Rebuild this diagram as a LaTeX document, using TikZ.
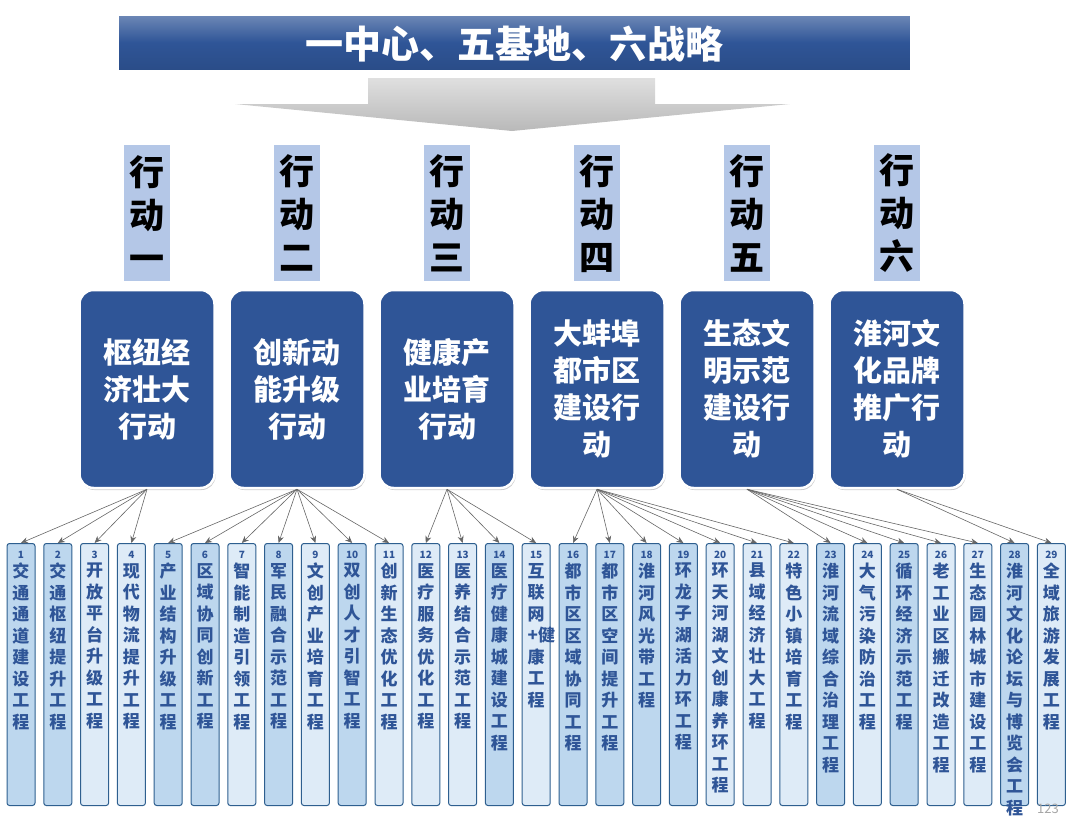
\documentclass[tikz,border=0pt]{standalone}
\usepackage{fontspec}
\setmainfont{Noto Sans CJK SC}
\usetikzlibrary{arrows.meta,shadows}
\XeTeXlinebreaklocale "zh"
\XeTeXlinebreakskip=0pt plus 1pt
\definecolor{navy}{HTML}{2F5597}
\definecolor{dk}{HTML}{BDD7EE}
\definecolor{lt}{HTML}{DEEBF7}
\definecolor{band}{HTML}{B4C7E7}
\definecolor{edge}{HTML}{2E5F8F}
\tikzset{
 main/.style={draw=white,line width=2.5pt,fill=navy,rounded corners=14pt,minimum width=135,minimum height=198,text=white,font=\fontsize{29}{37}\selectfont\bfseries,align=center,drop shadow={shadow xshift=1pt,shadow yshift=-2pt,opacity=.4}},
 sub/.style={draw=edge,line width=1pt,rounded corners=2.5pt,minimum width=28,minimum height=262,anchor=north},
 subtxt/.style={text width=17,align=center,anchor=north,inner sep=0,font=\fontsize{17}{21.5}\selectfont\bfseries,text=navy},
 num/.style={font=\fontsize{10}{10}\selectfont\bfseries,text=navy,inner sep=0},
 lab/.style={fill=band,minimum width=46,minimum height=136,anchor=north,align=center,font=\fontsize{35}{43}\selectfont\bfseries,inner sep=0},
 link/.style={draw=gray!80!black,line width=.6pt,-{Stealth[length=7pt,width=6pt]}}
}
\begin{document}
\begin{tikzpicture}[x=1pt,y=-1pt]
\useasboundingbox (0,0) rectangle (1080,817);
% title
\shade[top color=navy!70,bottom color=navy!90!black,middle color=navy] (118,15) rectangle (910,70);
\draw[white,line width=1pt] (118,15) rectangle (910,70);
\node[text=white,font=\fontsize{38}{40}\selectfont\bfseries] (title) at (514,44) {一中心、五基地、六战略};
% gray arrow
\shade[top color=gray!25,bottom color=gray!55] (368,78) -- (655,78) -- (655,104) -- (790,104) -- (512,131) -- (235,104) -- (368,104) -- cycle;
% labels and main boxes
\foreach \i/\x/\c/\t in {1/147/一/枢纽经\\济壮大\\行动,2/297/二/创新动\\能升级\\行动,3/447/三/健康产\\业培育\\行动,4/597/四/大蚌埠\\都市区\\建设行\\动,5/747/五/生态文\\明示范\\建设行\\动,6/897/六/淮河文\\化品牌\\推广行\\动}{
 \node[lab] (L\i) at (\x,145) {行\\动\\\c};
 \node[main] (M\i) at (\x,389) {\t};
}
% sub boxes
\foreach \n/\col/\t in {1/dk/交通通道建设工程,2/dk/交通枢纽提升工程,3/lt/开放平台升级工程,4/lt/现代物流提升工程,5/dk/产业结构升级工程,6/dk/区域协同创新工程,7/lt/智能制造引领工程,8/dk/军民融合示范工程,9/lt/文创产业培育工程,10/dk/双创人才引智工程,11/lt/创新生态优化工程,12/lt/医疗服务优化工程,13/lt/医养结合示范工程,14/dk/医疗健康城建设工程,15/lt/互联网+健康工程,16/dk/都市区区域协同工程,17/dk/都市区空间提升工程,18/dk/淮河风光带工程,19/dk/环龙子湖活力环工程,20/lt/环天河湖文创康养环工程,21/lt/县域经济壮大工程,22/lt/特色小镇培育工程,23/dk/淮河流域综合治理工程,24/lt/大气污染防治工程,25/dk/循环经济示范工程,26/lt/老工业区搬迁改造工程,27/lt/生态园林城市建设工程,28/dk/淮河文化论坛与博览会工程,29/lt/全域旅游发展工程}{
 \pgfmathsetmacro\xx{21+(\n-1)*36.8}
 \node[sub,fill=\col] (S\n) at (\xx,543) {};
 \node[num] (N\n) at (\xx,555) {\n};
 \node[subtxt] (T\n) at (\xx,563) {\t};
}
\foreach \m/\a/\b in {1/1/4,2/5/11,3/12/15,4/16/22,5/23/27,6/28/29}{
 \foreach \k in {\a,...,\b}{
  \draw[link] (M\m.south) -- (S\k.north);
 }
}
\node[text=gray!70,font=\fontsize{13}{13}\selectfont] (pg) at (1048,809) {123};
\end{tikzpicture}
\end{document}
